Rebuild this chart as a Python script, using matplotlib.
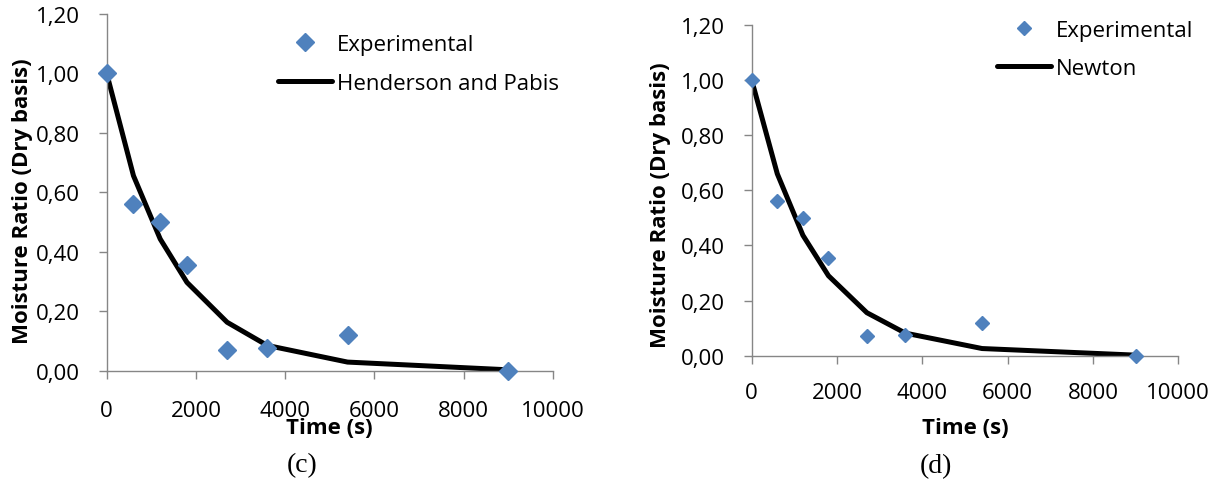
import matplotlib
matplotlib.use("Agg")
import matplotlib.pyplot as plt

plt.rcParams['font.family'] = ['Open Sans', 'DejaVu Sans']

# drying data (time in s, moisture ratio dry basis)
time_s = [0, 600, 1200, 1800, 2700, 3600, 5400, 9000]
mr_exp = [1.00, 0.56, 0.50, 0.356, 0.071, 0.075, 0.12, 0.0]
mr_hp = [1.00, 0.656, 0.443, 0.297, 0.163, 0.085, 0.029, 0.003]
mr_newton = [1.00, 0.66, 0.437, 0.29, 0.156, 0.082, 0.026, 0.002]

xticks = [0, 2000, 4000, 6000, 8000, 10000]
yticks = [0.0, 0.2, 0.4, 0.6, 0.8, 1.0, 1.2]
ytick_labels = ['0,00', '0,20', '0,40', '0,60', '0,80', '1,00', '1,20']

W, H = 1225, 485
fig = plt.figure(figsize=(W / 100, H / 100), dpi=100)

blue = '#4F81BD'
grey = '#868686'
fs = 16


def px(x0, y0, x1, y1):
    # pixel box (top-left origin) -> figure fraction
    return [x0 / W, 1 - y1 / H, (x1 - x0) / W, (y1 - y0) / H]


def style(ax, pad_y, pad_x):
    for s in ['top', 'right']:
        ax.spines[s].set_visible(False)
    for s in ['left', 'bottom']:
        ax.spines[s].set_color(grey)
        ax.spines[s].set_linewidth(1.0)
    ax.set_xlim(0, 10000)
    ax.set_ylim(0, 1.2)
    ax.set_xticks(xticks)
    ax.set_yticks(yticks)
    ax.set_yticklabels(ytick_labels)
    ax.tick_params(axis='both', direction='out', length=6, width=1.0,
                   color=grey, labelsize=fs)
    ax.tick_params(axis='y', pad=pad_y)
    ax.tick_params(axis='x', pad=pad_x)


# (c) Henderson and Pabis
ax1 = fig.add_axes(px(106.7, 15, 552.7, 371.7))
style(ax1, 13, 15)
ax1.plot(time_s, mr_hp, color='black', lw=3.6, solid_capstyle='round',
         label='Henderson and Pabis', zorder=2)
ax1.plot(time_s, mr_exp, ls='none', marker='D', ms=9.5, color=blue,
         label='Experimental', zorder=3, clip_on=False)
ax1.set_xlabel('Time (s)', fontsize=fs, fontweight='bold')
ax1.xaxis.set_label_coords(329.7 / W, 1 - 418 / H, transform=fig.transFigure)
ax1.set_ylabel('Moisture Ratio (Dry basis)', fontsize=fs, fontweight='bold')
ax1.yaxis.set_label_coords(33 / W, 1 - 201 / H, transform=fig.transFigure)
h, l = ax1.get_legend_handles_labels()
ax1.legend(h[::-1], l[::-1], loc='upper left', frameon=False, fontsize=fs,
           bbox_to_anchor=(278 / W, 1 - 35 / H), bbox_transform=fig.transFigure,
           borderpad=0, borderaxespad=0, handlelength=2.45, handletextpad=0.22,
           labelspacing=0.8, markerscale=1.0)
fig.text(302 / W, 1 - 466 / H, '(c)', ha='center', va='center',
         family='Liberation Serif', fontsize=20)

# (d) Newton
ax2 = fig.add_axes(px(751.7, 26, 1178.3, 356.7))
style(ax2, 13, 13)
ax2.plot(time_s, mr_newton, color='black', lw=3.6, solid_capstyle='round',
         label='Newton', zorder=2)
ax2.plot(time_s, mr_exp, ls='none', marker='D', ms=7.0, color=blue,
         label='Experimental', zorder=3, clip_on=False)
ax2.set_xlabel('Time (s)', fontsize=fs, fontweight='bold')
ax2.xaxis.set_label_coords(965 / W, 1 - 418 / H, transform=fig.transFigure)
ax2.set_ylabel('Moisture Ratio (Dry basis)', fontsize=fs, fontweight='bold')
ax2.yaxis.set_label_coords(671 / W, 1 - 205 / H, transform=fig.transFigure)
h, l = ax2.get_legend_handles_labels()
ax2.legend(h[::-1], l[::-1], loc='upper left', frameon=False, fontsize=fs,
           bbox_to_anchor=(997 / W, 1 - 21 / H), bbox_transform=fig.transFigure,
           borderpad=0, borderaxespad=0, handlelength=2.45, handletextpad=0.22,
           labelspacing=0.75, markerscale=1.0)
fig.text(936 / W, 1 - 467 / H, '(d)', ha='center', va='center',
         family='Liberation Serif', fontsize=20)

fig.savefig('out.png', dpi=100)
